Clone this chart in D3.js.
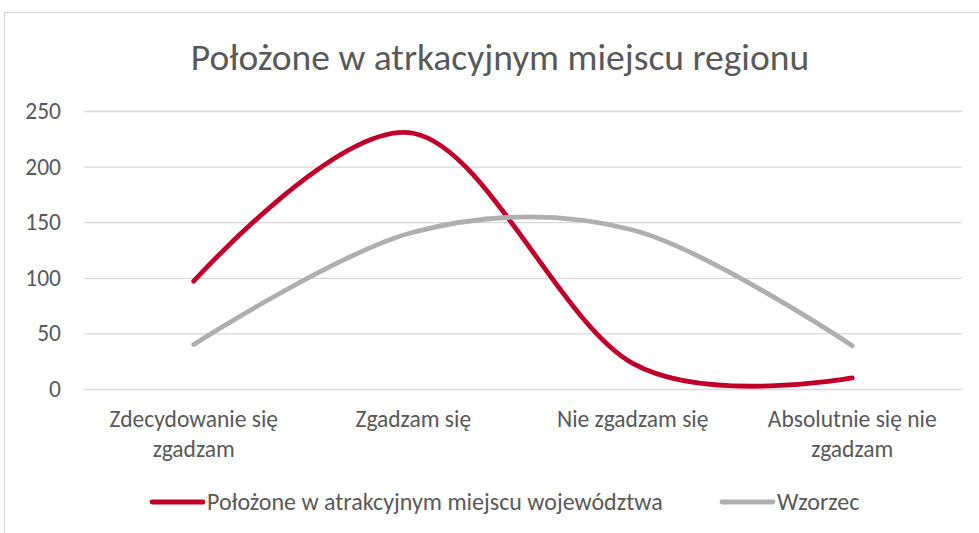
<!DOCTYPE html>
<html>
<head>
<meta charset="utf-8">
<script src="https://cdn.jsdelivr.net/npm/d3@7"></script>
<style>
  html, body { margin: 0; padding: 0; background: #fff; }
  svg text { font-family: Carlito, "Liberation Sans Narrow", "Open Sans", sans-serif; fill: #595959; }
</style>
</head>
<body>
<svg id="chart" width="979" height="533"></svg>
<script>
// Category labels (each split into display lines)
const categories = [
  ["Zdecydowanie się", "zgadzam"],
  ["Zgadzam się"],
  ["Nie zgadzam się"],
  ["Absolutnie się nie", "zgadzam"]
];
const seriesNames = ["Położone w atrakcyjnym miejscu województwa", "Wzorzec"];
const regionValues = [97, 230, 23, 10];
const patternValues = [40, 141, 143, 39];
const yTicks = [0, 50, 100, 150, 200, 250];
const title = "Położone w atrkacyjnym miejscu regionu";

const colors = ["#c0002b", "#afafaf"];

const svg = d3.select("#chart");

// outer frame of the chart area
svg.append("rect")
  .attr("x", 4.5).attr("y", 12.5)
  .attr("width", 1000).attr("height", 600)
  .attr("fill", "none").attr("stroke", "#d9d9d9").attr("stroke-width", 1);

const plot = { left: 84, right: 962, top: 111, bottom: 389 };

const x = d3.scaleBand()
  .domain(d3.range(categories.length))
  .range([plot.left, plot.right]);

const y = d3.scaleLinear()
  .domain([0, 250])
  .range([plot.bottom, plot.top]);

// title
svg.append("text")
  .attr("x", 500).attr("y", 70)
  .attr("text-anchor", "middle")
  .attr("font-size", 37.5)
  .text(title);

// gridlines and y labels
const yAxis = d3.axisLeft(y).tickValues(yTicks).tickSize(-(plot.right - plot.left)).tickPadding(23);
const gy = svg.append("g").attr("transform", `translate(${plot.left},0)`).call(yAxis);
gy.select(".domain").remove();
gy.selectAll(".tick line").attr("stroke", "#d9d9d9").attr("stroke-width", 1.3);
gy.selectAll(".tick text").attr("font-size", 23.5).attr("fill", "#595959")
  .style("font-family", 'Carlito, "Liberation Sans Narrow", "Open Sans", sans-serif');

// category labels
const xAxis = d3.axisBottom(x).tickSize(0).tickFormat(() => "");
const gx = svg.append("g").attr("transform", `translate(0,${plot.bottom})`).call(xAxis);
gx.select(".domain").remove();
gx.selectAll(".tick").each(function(d) {
  const t = d3.select(this).append("text")
    .attr("text-anchor", "middle")
    .attr("font-size", 23.5)
    .attr("fill", "#595959");
  categories[d].forEach((line, i) => {
    t.append("tspan").attr("x", 0).attr("y", 38 + i * 30).text(line);
  });
});

// smoothed lines
const line = d3.line()
  .x((d, i) => x(i) + x.bandwidth() / 2)
  .y(d => y(d))
  .curve(d3.curveCatmullRom.alpha(0));

[regionValues, patternValues].forEach((vals, k) => {
  svg.append("path")
    .datum(vals)
    .attr("d", line)
    .attr("fill", "none")
    .attr("stroke", colors[k])
    .attr("stroke-width", 4.8)
    .attr("stroke-linecap", "round")
    .attr("stroke-linejoin", "round");
});

// legend
const legendItems = [
  { x: 150, name: seriesNames[0], color: colors[0] },
  { x: 720, name: seriesNames[1], color: colors[1] }
];
const lg = svg.append("g").attr("transform", "translate(0,502)");
legendItems.forEach(item => {
  lg.append("line")
    .attr("x1", item.x + 2).attr("x2", item.x + 53)
    .attr("y1", 0).attr("y2", 0)
    .attr("stroke", item.color).attr("stroke-width", 4.8).attr("stroke-linecap", "round");
  lg.append("text")
    .attr("x", item.x + 57).attr("y", 0).attr("dy", "0.35em")
    .attr("font-size", 24)
    .text(item.name);
});
</script>
</body>
</html>
